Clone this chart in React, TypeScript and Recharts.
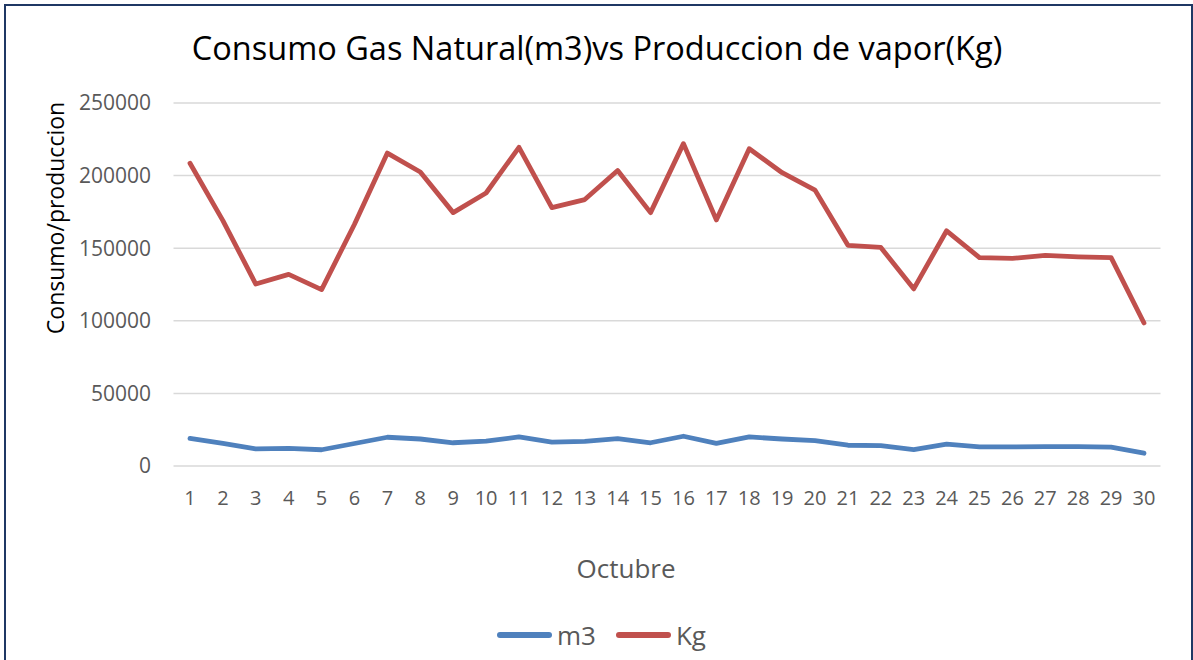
import { LineChart, Line, XAxis, YAxis, CartesianGrid } from 'recharts'

const days = ['1', '2', '3', '4', '5', '6', '7', '8', '9', '10', '11', '12', '13', '14', '15',
  '16', '17', '18', '19', '20', '21', '22', '23', '24', '25', '26', '27', '28', '29', '30']

const m3 = [19000, 15500, 11800, 12200, 11200, 15500, 19800, 18600, 16000, 17200, 20000, 16500, 17000, 18900, 16000,
  20500, 15600, 20000, 18600, 17500, 14300, 14000, 11300, 15000, 13200, 13200, 13400, 13400, 13000, 8800]

const kg = [208500, 169000, 125300, 132000, 121500, 166500, 215500, 202500, 174500, 188000, 219500, 178000, 183500, 203500, 174500,
  222000, 169500, 218500, 202000, 190000, 152000, 150500, 122000, 162000, 143500, 143000, 145000, 144000, 143500, 98500]

const yTicks = [0, 50000, 100000, 150000, 200000, 250000]

const series = [
  { key: 'm3', name: 'm3', color: '#4f81bd' },
  { key: 'kg', name: 'Kg', color: '#c0504d' },
]

const data = days.map((d, i) => ({ day: d, m3: m3[i], kg: kg[i] }))

const font = '"Open Sans", sans-serif'
const grey = '#595959'

export default function App() {
  return (
    <div style={{
      position: 'absolute', left: 0, top: 0, width: 1193, height: 660,
      overflow: 'hidden', background: '#fff', fontFamily: font,
    }}>
      <div style={{
        position: 'absolute', left: 4, top: 4, width: 1185, height: 700,
        border: '2px solid #1f3864',
      }} />
      <div style={{
        position: 'absolute', left: 0, top: 23, width: 1194, textAlign: 'center',
        fontSize: 32.5, color: '#000', lineHeight: '50px',
      }}>
        Consumo Gas Natural(m3)vs Produccion de vapor(Kg)
      </div>
      <div style={{
        position: 'absolute', left: 55, top: 218, width: 300, height: 30,
        marginLeft: -150, marginTop: -15, transform: 'rotate(-90deg)',
        textAlign: 'center', fontSize: 23, lineHeight: '30px', color: '#000',
      }}>
        Consumo/produccion
      </div>
      <div style={{
        position: 'absolute', left: 526, top: 550, width: 200, textAlign: 'center',
        fontSize: 26, lineHeight: '36px', color: grey,
      }}>
        Octubre
      </div>
      <div style={{
        position: 'absolute', left: 0, top: 617, width: 1193, display: 'flex',
        justifyContent: 'center', alignItems: 'center', paddingLeft: 30, boxSizing: 'border-box',
      }}>
        {series.map(s => (
          <div key={s.key} style={{ display: 'flex', alignItems: 'center', marginRight: 20 }}>
            <div style={{ width: 55, height: 5.5, borderRadius: 3, background: s.color, marginRight: 5 }} />
            <span style={{ fontSize: 26, color: grey, lineHeight: '36px' }}>{s.name}</span>
          </div>
        ))}
      </div>
      <div style={{ position: 'absolute', left: 0, top: 0 }}>
        <LineChart width={1193} height={660} data={data}
          margin={{ top: 103, right: 32.5, bottom: 164, left: 73.5 }}>
          <CartesianGrid vertical={false} stroke="#d9d9d9" strokeWidth={1.5} />
          <XAxis dataKey="day" height={30} axisLine={false} tickLine={false} tickSize={6} tickMargin={19}
            padding={{ left: 16.5, right: 16.5 }} interval={0}
            tick={{ fontSize: 20, fill: grey, fontFamily: font }} />
          <YAxis width={100} domain={[0, 250000]} ticks={yTicks} axisLine={false} tickLine={false}
            tickSize={6} tickMargin={16.5} interval={0}
            tick={{ fontSize: 21, fill: grey, fontFamily: font }} />
          {series.map(s => (
            <Line key={s.key} type="linear" dataKey={s.key} name={s.name} stroke={s.color}
              strokeWidth={4.8} strokeLinejoin="round" strokeLinecap="round"
              dot={false} activeDot={false} isAnimationActive={false} />
          ))}
        </LineChart>
      </div>
    </div>
  )
}
